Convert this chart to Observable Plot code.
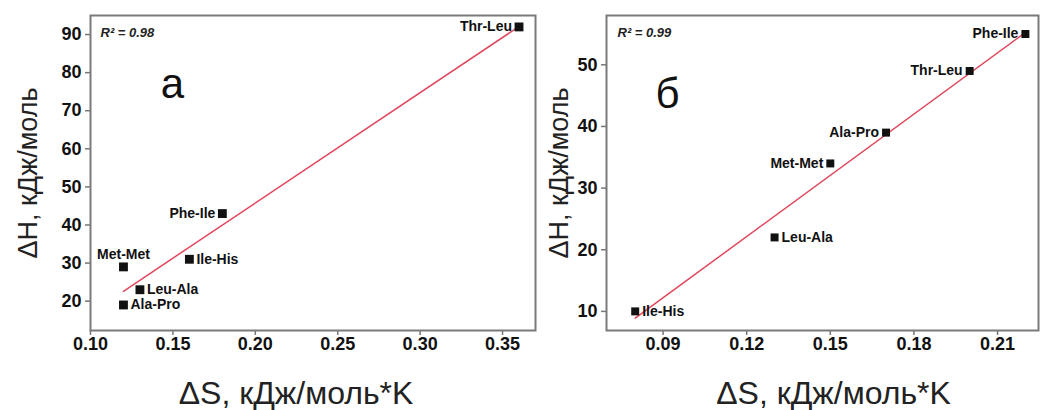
<!DOCTYPE html>
<html><head><meta charset="utf-8">
<script src="https://cdn.jsdelivr.net/npm/d3@7"></script>
<script src="https://cdn.jsdelivr.net/npm/@observablehq/plot@0.6"></script>
<style>
body{margin:0;background:#fff;}
#wrap{display:flex;width:1040px;height:410px;overflow:hidden;}
svg{font-family:"Liberation Sans",Arial,sans-serif;}
</style></head><body><div id="wrap"></div>
<script>
// Panel а
const pairsA = ["Thr-Leu","Phe-Ile","Met-Met","Ile-His","Leu-Ala","Ala-Pro"];
const dSA = [0.36,0.18,0.12,0.16,0.13,0.12];
const dHA = [92,43,29,31,23,19];
const r2A = "R² = 0.98";
const tagA = "а";
const xTicksA = [0.10,0.15,0.20,0.25,0.30,0.35];
const yTicksA = [20,30,40,50,60,70,80,90];
// Panel б
const pairsB = ["Phe-Ile","Thr-Leu","Ala-Pro","Met-Met","Leu-Ala","Ile-His"];
const dSB = [0.22,0.20,0.17,0.15,0.13,0.08];
const dHB = [55,49,39,34,22,10];
const r2B = "R² = 0.99";
const tagB = "б";
const xTicksB = [0.09,0.12,0.15,0.18,0.21];
const yTicksB = [10,20,30,40,50];
// Axis titles
const xTitle = "ΔS, кДж/моль*K";
const yTitle = "ΔH, кДж/моль";

function panel(o) {
  const data = o.pairs.map((p,i)=>({pair:p, dS:o.dS[i], dH:o.dH[i]}));
  const side = d => o.right.includes(d.pair) ? "right" : o.above.includes(d.pair) ? "above" : "left";
  const txt = {x:"dS", y:"dH", text:"pair", fontSize:14, fontWeight:"bold", fill:"#111"};
  return Plot.plot({
    width:o.width, height:410,
    marginLeft:o.ml, marginRight:o.mr, marginTop:15, marginBottom:80,
    x:{domain:o.xDomain}, y:{domain:o.yDomain},
    style:{fontFamily:"'Liberation Sans',Arial,sans-serif", background:"#fff"},
    marks:[
      Plot.axisX({ticks:o.xTicks, tickFormat:d3.format(".2f"), tickSize:5, tickPadding:2, fontSize:18, fontWeight:"bold", fill:"#111", stroke:"#777", strokeWidth:1.5, label:null}),
      Plot.axisY({ticks:o.yTicks, tickFormat:d3.format("d"), tickSize:5, tickPadding:4, fontSize:18, fontWeight:"bold", fill:"#111", stroke:"#777", strokeWidth:1.5, label:null}),
      Plot.frame({stroke:"#7a7a7a", strokeWidth:2}),
      Plot.linearRegressionY(data, {x:"dS", y:"dH", stroke:"#e0475c", strokeWidth:1.5, ci:0}),
      Plot.dot(data, {x:"dS", y:"dH", symbol:"square", r:o.r, fill:"#111", stroke:"none"}),
      Plot.text(data.filter(d=>side(d)==="left"), {...txt, textAnchor:"end", dx:-7}),
      Plot.text(data.filter(d=>side(d)==="right"), {...txt, textAnchor:"start", dx:7}),
      Plot.text(data.filter(d=>side(d)==="above"), {...txt, textAnchor:"middle", dy:-12}),
      Plot.text([o.r2], {frameAnchor:"top-left", text:d=>d, dx:o.r2dx, dy:17, lineAnchor:"middle", textAnchor:"start", fontSize:13, fontWeight:"bold", fontStyle:"italic", fill:"#222"}),
      Plot.text([o.tag], {frameAnchor:"top-left", text:d=>d, dx:o.tagDx, dy:o.tagDy, lineAnchor:"bottom", textAnchor:"middle", fontSize:42, fill:"#111"}),
      Plot.text([xTitle], {frameAnchor:"bottom", text:d=>d, dx:o.xtDx, dy:73, lineAnchor:"bottom", textAnchor:"middle", fontSize:32, fill:"#222"}),
      Plot.text([yTitle], {frameAnchor:"left", text:d=>d, dx:o.ytDx, rotate:-90, lineAnchor:"middle", textAnchor:"middle", fontSize:27, fill:"#222"})
    ]
  });
}

const wrap = document.getElementById("wrap");
wrap.append(panel({pairs:pairsA, dS:dSA, dH:dHA, r2:r2A, tag:tagA, xTicks:xTicksA, yTicks:yTicksA,
  xDomain:[0.10,0.37], yDomain:[12.3,95], width:540, ml:90, mr:5, r:5,
  right:["Ile-His","Leu-Ala","Ala-Pro"], above:["Met-Met"],
  r2dx:10, tagDx:82, tagDy:82, xtDx:-17, ytDx:-62}));
wrap.append(panel({pairs:pairsB, dS:dSB, dH:dHB, r2:r2B, tag:tagB, xTicks:xTicksB, yTicks:yTicksB,
  xDomain:[0.0697,0.2247], yDomain:[6.9,58], width:500, ml:66, mr:2, r:4.5,
  right:["Leu-Ala","Ile-His"], above:[],
  r2dx:11, tagDx:61, tagDy:92, xtDx:11, ytDx:-47}));
</script></body></html>
